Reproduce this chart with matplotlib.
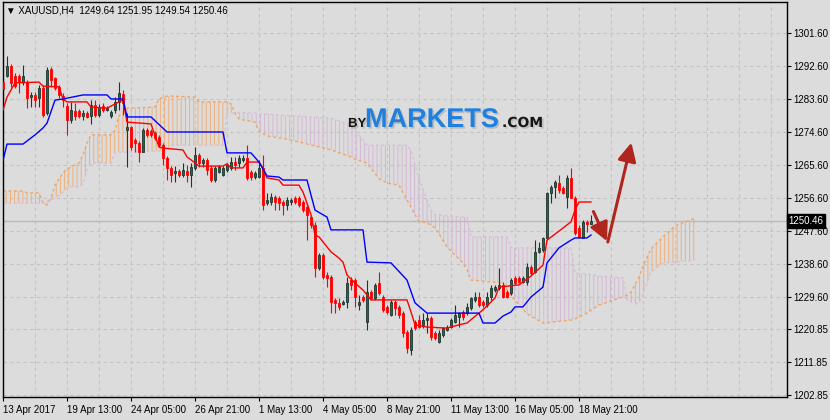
import matplotlib
matplotlib.use("Agg")
import matplotlib.pyplot as plt
import matplotlib.patheffects as pe
from matplotlib.ticker import FixedLocator, MultipleLocator
import numpy as np

plt.rcParams["font.family"] = ["Liberation Sans", "DejaVu Sans"]

# ---------------------------------------------------------------------------
# Data: XAUUSD H4 candles (bar index 0 = 13 Apr 2017)
# ---------------------------------------------------------------------------

opens = [
    1288.3, 1290.0, 1292.7, 1290.0, 1290.0, 1288.3, 1288.3, 1284.2, 1284.8, 1284.0,
    1286.7, 1279.9, 1291.9, 1289.4, 1287.0, 1284.5, 1281.8, 1278.0, 1280.4, 1280.4,
    1279.1, 1279.9, 1279.1, 1282.1, 1279.3, 1281.8, 1280.7, 1279.1, 1280.7, 1282.9,
    1285.1, 1275.2, 1276.1, 1272.5, 1271.7, 1269.2, 1275.2, 1275.0, 1274.4, 1273.3,
    1271.2, 1267.6, 1264.9, 1263.5, 1264.1, 1263.0, 1264.1, 1263.0, 1264.9, 1268.4,
    1266.2, 1267.1, 1264.9, 1261.6, 1263.8, 1263.0, 1264.3, 1264.9, 1266.5, 1266.2,
    1267.1, 1267.6, 1263.8, 1262.4, 1262.4, 1264.9, 1255.3, 1255.6, 1257.0, 1256.7,
    1255.6, 1254.8, 1255.6, 1256.7, 1256.7, 1255.6, 1254.2, 1251.5, 1249.3, 1237.6,
    1241.2, 1235.7, 1235.2, 1228.9, 1228.1, 1227.8, 1228.3, 1234.3, 1234.3, 1227.5,
    1229.7, 1222.9, 1231.1, 1229.4, 1233.5, 1229.7, 1227.0, 1224.8, 1228.3, 1227.0,
    1225.3, 1220.1, 1215.2, 1222.9, 1223.4, 1222.1, 1223.4, 1224.0, 1219.9, 1217.4,
    1219.3, 1220.7, 1221.5, 1222.9, 1224.2, 1225.6, 1225.3, 1226.7, 1228.9, 1229.7,
    1228.3, 1227.5, 1229.7, 1231.6, 1232.2, 1233.0, 1231.1, 1230.8, 1234.9, 1234.9,
    1233.8, 1233.8, 1237.9, 1236.5, 1242.0, 1242.5, 1245.8, 1258.1, 1259.7, 1260.8,
    1259.4, 1257.0, 1262.2, 1256.7, 1248.5, 1245.8, 1250.2, 1249.64,
]
highs = [
    1288.9, 1295.4, 1293.2, 1290.8, 1290.5, 1293.0, 1288.9, 1285.6, 1285.6, 1287.5,
    1287.5, 1292.4, 1292.4, 1289.7, 1287.5, 1285.3, 1282.6, 1282.9, 1282.6, 1281.0,
    1280.7, 1280.4, 1283.4, 1283.4, 1282.3, 1282.6, 1281.8, 1280.7, 1284.2, 1288.3,
    1286.2, 1279.9, 1276.3, 1273.1, 1272.2, 1275.8, 1275.8, 1275.5, 1275.0, 1273.9,
    1271.7, 1268.2, 1265.4, 1265.4, 1264.6, 1266.2, 1265.7, 1266.2, 1270.6, 1269.0,
    1267.6, 1267.6, 1265.4, 1265.4, 1265.7, 1265.4, 1266.2, 1267.9, 1267.9, 1268.4,
    1268.4, 1271.2, 1264.3, 1264.1, 1267.1, 1268.4, 1258.1, 1258.1, 1257.5, 1257.2,
    1256.2, 1257.0, 1256.7, 1257.2, 1257.2, 1256.2, 1254.8, 1252.1, 1250.2, 1241.7,
    1241.7, 1236.5, 1235.7, 1229.4, 1229.4, 1228.9, 1235.2, 1235.2, 1234.9, 1230.2,
    1230.2, 1234.3, 1231.6, 1233.5, 1236.5, 1230.2, 1227.5, 1228.9, 1228.9, 1227.5,
    1225.9, 1220.7, 1221.5, 1223.4, 1224.8, 1225.3, 1225.3, 1224.5, 1220.4, 1220.7,
    1221.5, 1222.1, 1224.0, 1227.5, 1225.6, 1226.2, 1228.1, 1229.7, 1231.1, 1231.1,
    1228.9, 1231.1, 1233.0, 1233.0, 1237.6, 1233.8, 1231.6, 1234.9, 1235.4, 1235.4,
    1235.4, 1239.0, 1238.4, 1245.2, 1244.7, 1246.1, 1258.3, 1260.2, 1261.6, 1263.0,
    1260.0, 1263.0, 1264.9, 1257.2, 1249.3, 1250.7, 1250.7, 1251.95,
]
lows = [
    1285.6, 1289.7, 1287.0, 1286.7, 1285.3, 1287.5, 1281.2, 1281.5, 1281.5, 1281.5,
    1278.8, 1279.3, 1287.0, 1286.2, 1284.0, 1281.5, 1273.9, 1277.2, 1278.0, 1278.5,
    1278.0, 1278.5, 1276.9, 1278.8, 1278.8, 1280.2, 1280.4, 1278.5, 1279.9, 1280.7,
    1279.3, 1265.2, 1269.8, 1269.2, 1266.5, 1269.2, 1273.3, 1273.3, 1272.5, 1270.6,
    1265.7, 1261.6, 1261.1, 1261.1, 1262.4, 1262.4, 1261.1, 1259.7, 1264.3, 1265.2,
    1265.2, 1263.0, 1261.1, 1261.1, 1263.5, 1262.7, 1263.8, 1264.3, 1264.3, 1265.2,
    1266.5, 1261.6, 1261.6, 1261.9, 1262.2, 1253.4, 1254.8, 1254.8, 1253.4, 1253.4,
    1252.1, 1253.4, 1254.8, 1255.1, 1254.2, 1252.9, 1245.2, 1248.5, 1235.2, 1237.1,
    1234.6, 1232.4, 1225.3, 1225.3, 1226.2, 1227.5, 1226.7, 1231.6, 1227.0, 1226.2,
    1228.3, 1220.7, 1228.9, 1228.9, 1230.2, 1225.6, 1225.1, 1224.5, 1224.8, 1224.0,
    1218.8, 1214.4, 1213.9, 1220.7, 1221.2, 1221.2, 1219.9, 1218.0, 1218.0, 1217.2,
    1218.8, 1220.4, 1221.2, 1222.6, 1221.5, 1223.4, 1224.8, 1226.2, 1228.3, 1227.0,
    1227.0, 1227.0, 1228.9, 1231.1, 1231.6, 1229.4, 1229.4, 1230.2, 1233.0, 1233.5,
    1233.5, 1233.0, 1235.7, 1236.2, 1241.7, 1242.0, 1245.2, 1255.3, 1256.7, 1258.1,
    1257.8, 1254.0, 1256.7, 1246.6, 1245.8, 1245.8, 1247.4, 1249.54,
]
closes = [
    1286.4, 1292.7, 1288.1, 1287.2, 1288.3, 1290.0, 1284.0, 1284.8, 1283.4, 1286.7,
    1279.3, 1291.6, 1288.9, 1286.7, 1284.8, 1283.4, 1278.0, 1280.7, 1279.1, 1279.1,
    1279.9, 1278.8, 1282.1, 1279.3, 1281.5, 1280.7, 1281.2, 1280.2, 1282.9, 1285.3,
    1282.6, 1276.1, 1270.6, 1271.7, 1269.2, 1275.2, 1273.9, 1273.9, 1273.1, 1271.2,
    1267.6, 1264.9, 1263.0, 1264.1, 1263.0, 1264.3, 1263.0, 1265.2, 1268.4, 1266.2,
    1267.1, 1264.3, 1261.6, 1264.9, 1265.2, 1264.9, 1265.7, 1266.5, 1265.7, 1267.6,
    1267.6, 1262.2, 1262.4, 1263.5, 1264.9, 1254.8, 1256.2, 1257.0, 1255.6, 1255.3,
    1254.8, 1256.2, 1256.2, 1255.6, 1254.8, 1253.4, 1252.1, 1249.3, 1237.6, 1241.2,
    1235.2, 1234.9, 1228.3, 1228.1, 1227.0, 1228.3, 1233.5, 1233.0, 1229.7, 1228.3,
    1228.9, 1231.1, 1229.4, 1233.0, 1230.8, 1226.2, 1225.6, 1228.3, 1226.7, 1224.8,
    1219.9, 1215.8, 1220.7, 1221.2, 1221.5, 1223.4, 1224.0, 1218.8, 1218.5, 1219.9,
    1221.2, 1221.5, 1223.4, 1224.8, 1225.3, 1224.2, 1227.0, 1229.4, 1229.7, 1227.5,
    1227.5, 1229.7, 1232.2, 1232.4, 1233.0, 1229.7, 1229.7, 1234.3, 1233.5, 1233.8,
    1234.9, 1237.9, 1236.2, 1242.0, 1243.1, 1245.8, 1258.1, 1259.7, 1261.1, 1258.9,
    1258.1, 1262.2, 1256.7, 1247.2, 1246.1, 1250.2, 1249.6, 1250.46,
]

# Ichimoku lines (bar index, price)
tenkan_x = [0, 1, 3, 9, 10, 14, 15, 16, 21, 22, 26, 29, 30, 31, 37, 39, 40, 45, 46, 47,
            49, 55, 56, 57, 60, 61, 64, 65, 66, 69, 70, 74, 75, 76, 77, 78, 79, 82, 84, 85,
            86, 88, 90, 92, 101, 102, 103, 106, 111, 114, 116, 120, 123, 124, 129, 132,
            135, 136, 140, 142, 143, 144, 147]
tenkan = [1280.7, 1284.2, 1288.1, 1288.3, 1287.2, 1287.0, 1283.7, 1282.9, 1282.9, 1281.5,
          1281.2, 1282.9, 1283.4, 1277.4, 1276.9, 1270.6, 1270.3, 1269.8, 1267.9, 1267.1,
          1265.4, 1265.4, 1266.0, 1264.9, 1264.9, 1266.5, 1266.5, 1264.9, 1262.2, 1261.6,
          1260.2, 1260.2, 1258.3, 1255.3, 1252.1, 1246.6, 1246.1, 1242.0, 1240.3, 1239.2,
          1235.7, 1233.5, 1231.6, 1228.9, 1228.9, 1225.6, 1222.1, 1221.5, 1221.2, 1222.1,
          1222.6, 1226.2, 1229.4, 1232.4, 1233.0, 1235.4, 1238.4, 1245.2, 1248.5, 1250.2,
          1253.4, 1255.6, 1255.6]

kijun_x = [0, 1, 5, 8, 10, 11, 13, 15, 20, 26, 27, 30, 31, 37, 41, 55, 56, 62, 64, 66,
           69, 70, 76, 78, 81, 82, 90, 91, 97, 101, 103, 106, 119, 120, 123, 125, 127,
           128, 130, 132, 135, 136, 139, 142, 143, 146, 147]
kijun = [1266.9, 1271.4, 1271.4, 1273.9, 1275.8, 1277.1, 1283.4, 1283.7, 1284.8, 1284.8,
         1283.7, 1283.7, 1278.8, 1278.8, 1274.7, 1274.7, 1269.0, 1269.0, 1266.5, 1262.7,
         1262.4, 1261.6, 1261.6, 1253.4, 1251.5, 1248.0, 1248.0, 1239.2, 1239.0, 1234.3,
         1228.1, 1225.3, 1225.3, 1222.6, 1222.6, 1224.5, 1225.6, 1227.0, 1227.0, 1229.7,
         1232.4, 1239.0, 1243.1, 1245.2, 1245.8, 1245.8, 1246.6]

cloud_x = [0, 5, 6, 9, 10, 11, 12, 13, 15, 16, 19, 20, 21, 22, 27, 28, 29, 31, 38, 39,
           41, 42, 48, 49, 55, 56, 57, 58, 59, 63, 64, 66, 69, 72, 82, 87, 88, 91, 94, 96,
           99, 101, 102, 103, 104, 106, 107, 108, 109, 111, 115, 116, 117, 125, 126, 127,
           128, 131, 135, 142, 143, 146, 149, 155, 156, 157, 158, 159, 160, 162, 165, 168,
           173]
span_a = [1258.6, 1258.6, 1258.1, 1258.1, 1255.3, 1254.8, 1256.7, 1260.2, 1263.5, 1264.6,
          1266.2, 1268.4, 1271.7, 1273.9, 1273.9, 1275.2, 1279.1, 1281.2, 1281.5, 1283.7,
          1284.5, 1284.5, 1284.2, 1282.9, 1282.9, 1282.9, 1282.3, 1279.9, 1278.2, 1277.4,
          1274.9, 1273.6, 1273.1, 1272.5, 1269.8, 1267.9, 1267.3, 1266.2, 1261.9, 1260.8,
          1260.2, 1256.2, 1254.2, 1252.1, 1250.4, 1249.9, 1249.3, 1248.5, 1246.9, 1243.3,
          1239.0, 1237.1, 1234.3, 1233.5, 1231.6, 1230.0, 1228.9, 1225.1, 1222.6, 1223.4,
          1223.7, 1225.3, 1227.5, 1229.7, 1230.2, 1231.1, 1233.0, 1235.1, 1238.1, 1242.8,
          1246.1, 1249.1, 1251.2]
span_b = [1255.3, 1255.3, 1255.3, 1255.3, 1255.3, 1255.9, 1256.2, 1256.7, 1258.3, 1259.7,
          1259.7, 1260.5, 1264.3, 1266.2, 1266.2, 1269.2, 1269.2, 1269.2, 1269.5, 1269.5,
          1269.5, 1271.1, 1271.1, 1271.1, 1271.1, 1279.9, 1279.9, 1279.9, 1279.9, 1279.9,
          1279.6, 1279.6, 1279.3, 1279.1, 1278.5, 1276.6, 1275.2, 1271.1, 1271.1, 1271.1,
          1271.1, 1271.1, 1269.8, 1265.7, 1262.2, 1256.2, 1253.4, 1252.1, 1252.1, 1251.8,
          1251.5, 1251.5, 1246.1, 1246.1, 1246.1, 1243.1, 1243.1, 1243.1, 1243.1, 1243.1,
          1236.2, 1236.0, 1235.4, 1234.9, 1228.9, 1228.3, 1227.8, 1228.1, 1230.5, 1236.5,
          1239.0, 1239.2, 1239.8]

price_ticks = [1301.60, 1292.60, 1283.60, 1274.60, 1265.60, 1256.60, 1247.60,
               1238.60, 1229.60, 1220.85, 1211.85, 1202.85]
date_ticks = [0, 16, 32, 48, 64, 80, 96, 112, 128, 144]
date_labels = ["13 Apr 2017", "19 Apr 13:00", "24 Apr 05:00", "26 Apr 21:00",
               "1 May 13:00", "4 May 05:00", "8 May 21:00", "11 May 13:00",
               "16 May 05:00", "18 May 21:00"]

# hand-drawn forecast arrows (bar index, price)
arrow_down = ((147.6, 1253.0), (151.0, 1244.9))
arrow_up = ((151.2, 1244.7), (157.1, 1271.8))

# ---------------------------------------------------------------------------
# Chart
# ---------------------------------------------------------------------------

BG = "#dcdcdc"
BULL_FACE = "#2f5e4e"
BULL_EDGE = "#1d372e"
BEAR = "#ff0000"
SANDY = "#f4a460"
THISTLE = "#d8bfd8"

fig = plt.figure(figsize=(8.3, 4.2), dpi=100)
fig.patch.set_facecolor(BG)
ax = fig.add_axes([3 / 830, 23 / 420, 784 / 830, 395 / 420])
ax.set_facecolor(BG)

x = np.arange(len(opens))
o = np.array(opens)
c = np.array(closes)
bull = c >= o

# cloud
a = np.array(span_a)
b = np.array(span_b)
plt.rcParams["hatch.linewidth"] = 0.7
plt.rcParams["hatch.color"] = "#eeb17c"
ax.fill_between(cloud_x, a, b, where=a >= b, interpolate=True, facecolor="none",
                edgecolor="#eeb17c", hatch="||||", linewidth=0, zorder=1)
plt.rcParams["hatch.color"] = "#d4b8d4"
ax.fill_between(cloud_x, a, b, where=a < b, interpolate=True, facecolor="none",
                edgecolor="#d4b8d4", hatch="||||", linewidth=0, zorder=1)
ax.plot(cloud_x, span_a, color=SANDY, lw=1.0, ls=(0, (2, 2)), zorder=1.5)
ax.plot(cloud_x, span_b, color=THISTLE, lw=1.0, ls=(0, (2, 2)), zorder=1.5)

# bid line
last = closes[-1]
ax.axhline(last, color="#b9b9b9", lw=1.0, zorder=1.2)

# candles
wick_cols = [BULL_EDGE if u else BEAR for u in bull]
ax.vlines(x, lows, highs, colors=wick_cols, linewidth=0.8, zorder=2)
ax.bar(x, np.abs(c - o), bottom=np.minimum(o, c), width=0.7,
       color=[BULL_FACE if u else BEAR for u in bull],
       edgecolor=[BULL_EDGE if u else BEAR for u in bull], linewidth=0.6, zorder=3)

# tenkan / kijun
ax.plot(tenkan_x, tenkan, color="#ff0000", lw=1.0, zorder=4)
ax.plot(kijun_x, kijun, color="#0000ff", lw=1.0, zorder=4)

# arrows
for start, end in (arrow_down, arrow_up):
    ax.annotate("", xy=end, xytext=start,
                arrowprops=dict(arrowstyle="-|>,head_length=0.8,head_width=0.4",
                                color="#b0261e", lw=2.2, mutation_scale=14,
                                shrinkA=0, shrinkB=0),
                zorder=6)

ax.set_xlim(0, 196)
ax.set_ylim(1202.42, 1310.15)

# axes styling
for sp in ax.spines.values():
    sp.set_color("black")
    sp.set_linewidth(1.0)
ax.yaxis.tick_right()
ax.yaxis.set_major_locator(FixedLocator(price_ticks))
ax.set_yticklabels([f"{p:.2f}" for p in price_ticks])
ax.xaxis.set_major_locator(FixedLocator(date_ticks))
ax.xaxis.set_minor_locator(MultipleLocator(8))
ax.set_xticklabels(date_labels)
for lbl in ax.get_xticklabels():
    lbl.set_horizontalalignment("left")
ax.tick_params(axis="both", which="major", direction="out", length=3, width=0.8,
               colors="black", labelsize=7, pad=1.5)
ax.tick_params(axis="x", which="major", pad=2.5)
ax.tick_params(axis="x", which="minor", length=0)
ax.grid(True, which="both", color="#c3c3c3", lw=0.8, ls=(0, (3, 3)))
ax.set_axisbelow(True)

# current price box
ax.text(1.002, last, f"{last:.2f}", transform=ax.get_yaxis_transform(),
        ha="left", va="center", fontsize=7, color="white", clip_on=False, zorder=10,
        bbox=dict(boxstyle="square,pad=0.18", fc="black", ec="black"))

# header
fig.text(6 / 830, 1 - 10.5 / 420,
         f"\u25bc XAUUSD,H4  {opens[-1]:.2f} {highs[-1]:.2f} {lows[-1]:.2f} {closes[-1]:.2f}",
         fontsize=7, color="black", va="center", ha="left")

# logo
shadow = [pe.withSimplePatchShadow(offset=(1.2, -1.2), shadow_rgbFace="#808080", alpha=0.35)]
base_y = 1 - 127 / 420
fig.text(348 / 830, base_y, "BY", fontsize=9.5, fontweight="bold",
         family=["Liberation Sans", "DejaVu Sans"], color="#151515", va="baseline",
         path_effects=shadow)
fig.text(365 / 830, base_y, "MARKETS", fontsize=19.5, fontweight="bold",
         family=["Liberation Sans", "DejaVu Sans"], color="#1e80e0", va="baseline",
         path_effects=shadow)
fig.text(502 / 830, base_y, ".COM", fontsize=10, fontweight="bold",
         family=["DejaVu Sans"], color="#151515", va="baseline", path_effects=shadow)

fig.savefig("out.png", dpi=100, facecolor=BG)
